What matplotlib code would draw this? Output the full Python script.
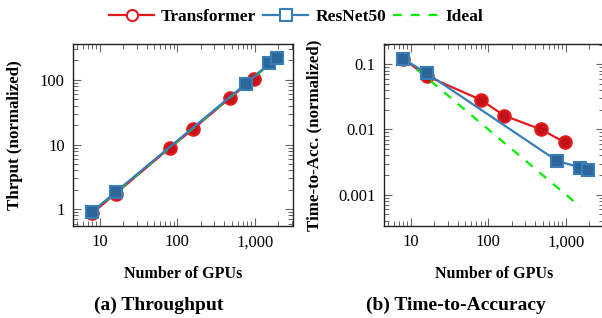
import matplotlib
matplotlib.use("Agg")
import matplotlib.pyplot as plt
from matplotlib.ticker import FixedLocator, FixedFormatter, LogLocator, NullFormatter
from matplotlib.lines import Line2D

plt.rcParams['font.family'] = ['Liberation Serif', 'DejaVu Serif']

# ---- data ----
tf_gpus = [8, 16, 80, 160, 480, 960]
tf_thr = [0.87, 1.75, 8.9, 17.5, 53, 105]
tf_tta = [0.121, 0.066, 0.0285, 0.0163, 0.0100, 0.00635]

rn_gpus = [8, 16, 768, 1536, 1920]
rn_thr = [0.92, 1.85, 88, 180, 215]
rn_tta = [0.121, 0.073, 0.0033, 0.0026, 0.0024]

ideal_gpus = [8, 1536]
ideal_thr = [0.9, 172.8]
ideal_tta = [0.125, 0.00065]

x_ticks = [10, 100, 1000]
x_tick_labels = ["10", "100", "1,000"]
thr_ticks = [1, 10, 100]
thr_tick_labels = ["1", "10", "100"]
tta_ticks = [0.1, 0.01, 0.001]
tta_tick_labels = ["0.1", "0.01", "0.001"]

RED = '#e41a1c'
RED_FACE = '#c4121a'
BLUE = '#377eb8'
BLUE_FACE = '#2d6699'
GREEN = '#00ee00'

fig = plt.figure(figsize=(6.02, 3.18), dpi=100)
W, H = 602, 318

def add_ax(x0, x1, ytop, ybot):
    return fig.add_axes([x0 / W, 1 - ybot / H, (x1 - x0) / W, (ybot - ytop) / H])

ax1 = add_ax(73, 293, 44, 226)
ax2 = add_ax(384, 604, 44, 226)

def style(ax, yt, ytl, ylim, ylabel):
    ax.set_xscale('log')
    ax.set_yscale('log')
    ax.set_xlim(4.5, 3100)
    ax.set_ylim(*ylim)
    ax.xaxis.set_major_locator(FixedLocator(x_ticks))
    ax.xaxis.set_major_formatter(FixedFormatter(x_tick_labels))
    ax.xaxis.set_minor_locator(LogLocator(base=10, subs=range(2, 10)))
    ax.xaxis.set_minor_formatter(NullFormatter())
    ax.yaxis.set_major_locator(FixedLocator(yt))
    ax.yaxis.set_major_formatter(FixedFormatter(ytl))
    ax.yaxis.set_minor_locator(LogLocator(base=10, subs=range(2, 10)))
    ax.yaxis.set_minor_formatter(NullFormatter())
    ax.tick_params(which='both', direction='in', top=True, right=True, color='#666666')
    ax.tick_params(which='major', length=6, width=0.8, labelsize=12, pad=6)
    ax.tick_params(which='minor', length=3.5, width=0.7)
    for s in ax.spines.values():
        s.set_linewidth(1.0)
        s.set_color('#222222')
    ax.set_xlabel('Number of GPUs', fontweight='bold', fontsize=11.5, labelpad=11)
    ax.set_ylabel(ylabel, fontweight='bold', fontsize=12.2)

style(ax1, thr_ticks, thr_tick_labels, (0.55, 360), 'Thrput (normalized)')
style(ax2, tta_ticks, tta_tick_labels, (0.00033, 0.205), 'Time-to-Acc. (normalized)')

def draw(ax, tf, rn, ideal):
    ax.plot(tf_gpus, tf, color=RED, lw=1.6, marker='o', ms=9, mfc=RED_FACE,
            mec=RED, mew=1.5, zorder=3)
    ax.plot(ideal_gpus, ideal, color=GREEN, lw=1.6, ls=(0, (4, 4)), zorder=4)
    ax.plot(rn_gpus, rn, color=BLUE, lw=1.6, marker='s', ms=9, mfc=BLUE_FACE,
            mec=BLUE, mew=1.5, zorder=5)

draw(ax1, tf_thr, rn_thr, ideal_thr)
draw(ax2, tf_tta, rn_tta, ideal_tta)

ax1.yaxis.set_label_coords(-0.227, 0.5)
ax2.yaxis.set_label_coords(-0.282, 0.5)

handles = [
    Line2D([], [], color=RED, lw=1.6, marker='o', ms=8, mfc='white', mec=RED, mew=1.5),
    Line2D([], [], color=BLUE, lw=1.6, marker='s', ms=8, mfc='white', mec=BLUE, mew=1.5),
    Line2D([], [], color=GREEN, lw=1.6, ls=(0, (4, 4))),
]
fig.legend(handles, ['Transformer', 'ResNet50', 'Ideal'], loc='center',
           bbox_to_anchor=(296 / W, 1 - 17 / H), ncol=3, frameon=False,
           prop={'weight': 'bold', 'size': 12.5}, handlelength=2.6,
           handletextpad=0.4, columnspacing=0.4, borderaxespad=0)

fig.text(159 / W, 1 - 305 / H, '(a) Throughput', ha='center', va='center',
         fontweight='bold', fontsize=14)
fig.text(456 / W, 1 - 305 / H, '(b) Time-to-Accuracy', ha='center', va='center',
         fontweight='bold', fontsize=14)

fig.savefig('out.png', dpi=100)
